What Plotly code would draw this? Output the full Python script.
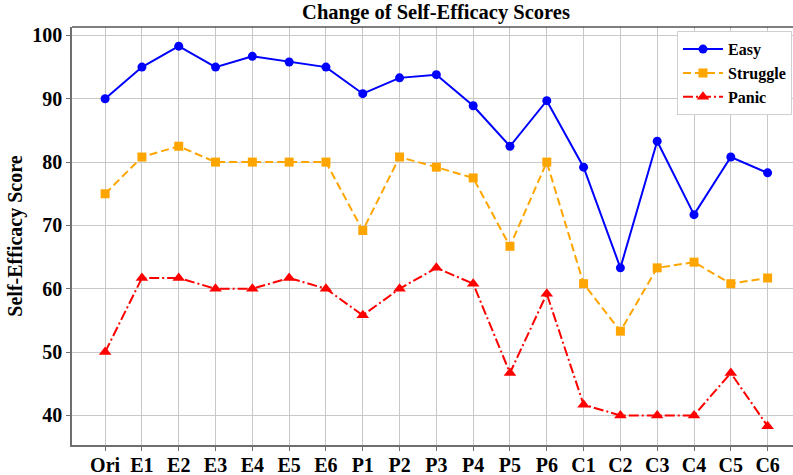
import plotly.graph_objects as go

categories = ["Ori", "E1", "E2", "E3", "E4", "E5", "E6", "P1", "P2", "P3",
              "P4", "P5", "P6", "C1", "C2", "C3", "C4", "C5", "C6"]
easy = [90.0, 95.0, 98.3, 95.0, 96.7, 95.8, 95.0, 90.8, 93.3, 93.8,
        88.9, 82.5, 89.7, 79.2, 63.3, 83.3, 71.7, 80.8, 78.3]
struggle = [75.0, 80.8, 82.5, 80.0, 80.0, 80.0, 80.0, 69.2, 80.8, 79.2,
            77.5, 66.7, 80.0, 60.8, 53.3, 63.3, 64.2, 60.8, 61.7]
panic = [50.0, 61.7, 61.7, 60.0, 60.0, 61.7, 60.0, 55.8, 60.0, 63.3,
         60.8, 46.7, 59.2, 41.7, 40.0, 40.0, 40.0, 46.7, 38.3]
y_ticks = [40, 50, 60, 70, 80, 90, 100]

FONT = "Liberation Serif, Times New Roman, serif"

fig = go.Figure()
fig.add_trace(go.Scatter(x=categories, y=easy, name="Easy", mode="lines+markers",
                         line=dict(color="#0000ff", width=2),
                         marker=dict(symbol="circle", size=9, color="#0000ff")))
fig.add_trace(go.Scatter(x=categories, y=struggle, name="Struggle", mode="lines+markers",
                         line=dict(color="#ffa500", width=2, dash="8px,4px"),
                         marker=dict(symbol="square", size=9, color="#ffa500")))
fig.add_trace(go.Scatter(x=categories, y=panic, name="Panic", mode="lines+markers",
                         line=dict(color="#ff0000", width=2, dash="10px,3px,2px,3px"),
                         marker=dict(symbol="triangle-up", size=11, color="#ff0000")))

fig.update_layout(
    width=793, height=475,
    margin=dict(l=72, r=0, t=27, b=30),
    plot_bgcolor="white", paper_bgcolor="white",
    font=dict(family=FONT, color="black"),
    title=dict(text="Change of Self-Efficacy Scores", x=436/793, xanchor="center",
               y=1 - 12/475, yanchor="middle",
               font=dict(size=20.5, family=FONT, weight="bold")),
    xaxis=dict(type="category", range=[-0.9, 18.69], showgrid=True, gridcolor="#c8c8c8",
               gridwidth=1, showline=True, linecolor="#6e6e6e", linewidth=1.5,
               ticks="outside", ticklen=4, tickcolor="#6e6e6e", automargin=False,
               ticklabelstandoff=-3,
               tickfont=dict(size=20, family=FONT, weight="bold")),
    yaxis=dict(range=[35.33, 101.33], tickvals=y_ticks, showgrid=True, gridcolor="#c8c8c8",
               gridwidth=1, showline=True, linecolor="#6e6e6e", linewidth=1.5,
               ticks="outside", ticklen=4, tickcolor="#6e6e6e", zeroline=False,
               automargin=False,
               tickfont=dict(size=20, family=FONT, weight="bold"),
               title=dict(text="Self-Efficacy Score",
                          font=dict(size=20, family=FONT, weight="bold"),
                          standoff=4)),
    legend=dict(x=0.9986, y=0.99, xanchor="right", yanchor="top", itemwidth=40,
                bgcolor="white", bordercolor="#d0d0d0", borderwidth=1,
                font=dict(size=16, family=FONT, weight="bold")),
    showlegend=True,
)
fig.add_shape(type="line", xref="paper", yref="paper", x0=0, x1=1, y0=1, y1=1,
              line=dict(color="black", width=1.2))

fig.write_html("out.html", config={"displayModeBar": False},
               post_script="document.body.style.margin='0px';document.body.style.overflow='hidden';")
